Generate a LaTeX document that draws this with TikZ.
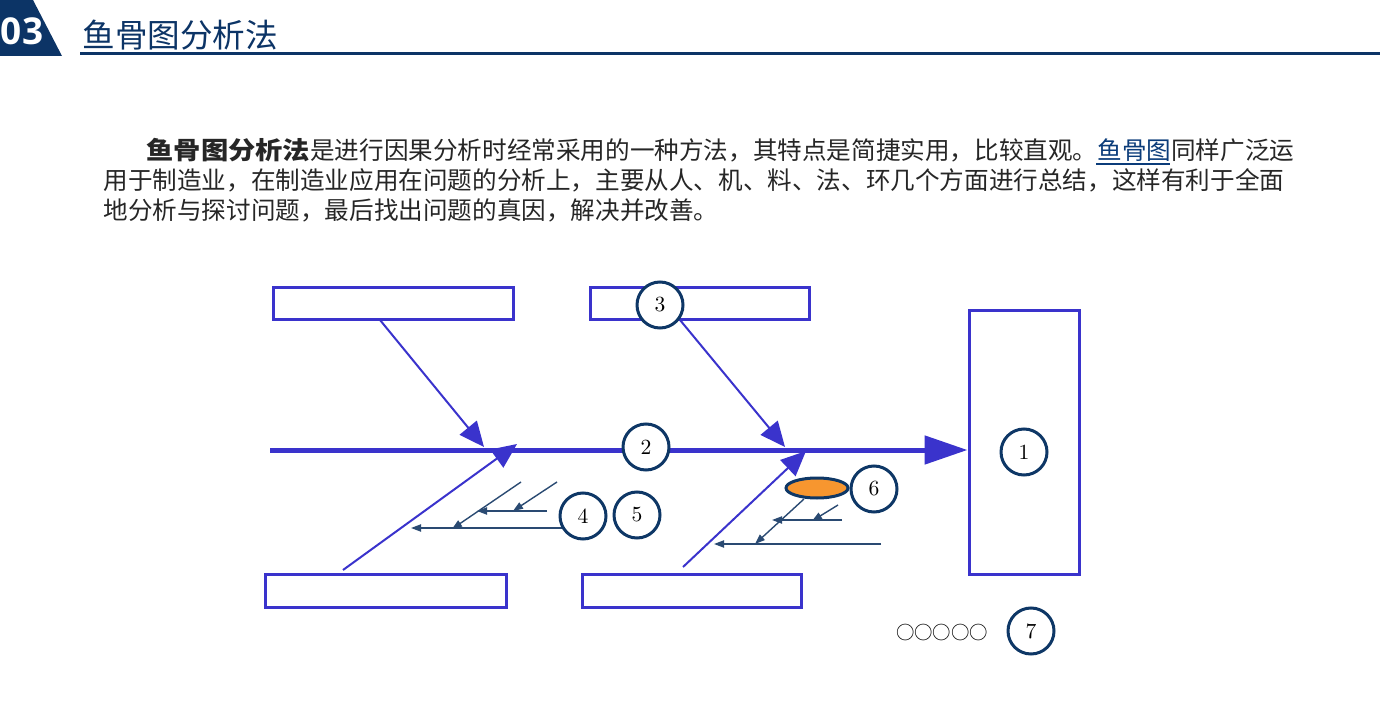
\documentclass[tikz,border=0pt]{standalone}
\usepackage{fontspec}
\usetikzlibrary{arrows.meta,shapes.geometric}
\newfontfamily\cjk{Noto Sans CJK SC}
\newfontfamily\numfont{Open Sans}
\definecolor{navy}{HTML}{0C3466}
\definecolor{bone}{HTML}{3A33CC}
\definecolor{cnavy}{HTML}{0E3766}
\definecolor{sarrow}{HTML}{2A4A72}
\definecolor{txt}{HTML}{262626}
\definecolor{linkc}{HTML}{0B3C7A}
\definecolor{fishorange}{HTML}{F7962F}
\tikzset{
  bbox/.style={draw=bone, line width=1.5pt, fill=white, inner sep=0pt},
  numc/.style={circle, draw=cnavy, line width=1.5pt, fill=white, minimum size=23pt, inner sep=0pt, font=\fontsize{10.8}{11}\selectfont},
  bonel/.style={draw=bone, line width=1pt, -{Triangle[length=12.5pt,width=11pt]}},
  smallarr/.style={draw=sarrow, line width=0.7pt, -{Triangle[length=5pt,width=3.6pt]}},
  para/.style={anchor=base west, inner sep=0pt, text=txt, font=\cjk\fontsize{12.3}{14}\selectfont},
}
\begin{document}
\begin{tikzpicture}[x=0.5pt,y=-0.5pt]
\useasboundingbox (0,0) rectangle (1380,716);
% header
\fill[navy] (0,0) -- (33,0) -- (62,56) -- (0,56) -- cycle;
\node[anchor=base, text=white, font=\numfont\bfseries\fontsize{18.5}{18}\selectfont, inner sep=0pt] (num) at (22,45) {03};
\node[anchor=base west, text=navy, font=\cjk\fontsize{16.3}{18}\selectfont, inner sep=0pt] (title) at (82,48) {鱼骨图分析法};
\coordinate (ulS) at (80,54);
\coordinate (ulE) at (1380,54);
\draw[navy, line width=1.5pt] (ulS) -- (ulE);
% paragraph
\node[para] (l1) at (146,160) {\scalebox{1.11}[1]{\bfseries 鱼骨图分析法}是进行因果分析时经常采用的一种方法，其特点是简捷实用，比较直观。\textcolor{linkc}{鱼骨图}同样广泛运};
\node[para] (l2) at (103,190) {用于制造业，在制造业应用在问题的分析上，主要从人、机、料、法、环几个方面进行总结，这样有利于全面};
\node[para] (l3) at (103,220) {地分析与探讨问题，最后找出问题的真因，解决并改善。};
\coordinate (lkS) at (1096,164);
\coordinate (lkE) at (1170,164);
\draw[linkc, line width=0.8pt] (lkS) -- (lkE);
% boxes
\node[bbox, minimum width=120pt, minimum height=16pt] (tb1) at (393,304) {};
\node[bbox, minimum width=109.5pt, minimum height=16pt] (tb2) at (699.5,304) {};
\node[bbox, minimum width=120.5pt, minimum height=16.5pt] (bb1) at (385.5,590.5) {};
\node[bbox, minimum width=109.5pt, minimum height=16.5pt] (bb2) at (691.5,590.5) {};
\node[bbox, minimum width=55pt, minimum height=131.5pt] (head) at (1024,442.5) {};
% spine
\coordinate (spS) at (270,450);
\draw[bone, line width=2.5pt, -{Triangle[length=21.5pt,width=14pt]}] (spS) -- (spS -| head.west);
% bones
\coordinate (t1a) at (380,320); \coordinate (t1b) at (484,447);
\coordinate (t2a) at (680,320); \coordinate (t2b) at (785,447);
\coordinate (b1a) at (343,570); \coordinate (b1b) at (517,444);
\coordinate (b2a) at (683,567); \coordinate (b2b) at (806,451);
\draw[bonel] (t1a) -- (t1b);
\draw[bonel] (t2a) -- (t2b);
\draw[bonel] (b1a) -- (b1b);
\draw[bonel] (b2a) -- (b2b);
% small arrows left
\coordinate (s1a) at (563,528); \coordinate (s1b) at (411,528);
\coordinate (s2a) at (547,511); \coordinate (s2b) at (477,511);
\coordinate (s3a) at (521,482); \coordinate (s3b) at (452,529);
\coordinate (s4a) at (557,482); \coordinate (s4b) at (513,511);
\draw[smallarr] (s1a) -- (s1b);
\draw[smallarr] (s2a) -- (s2b);
\draw[smallarr] (s3a) -- (s3b);
\draw[smallarr] (s4a) -- (s4b);
% small arrows right
\node[ellipse, draw=cnavy, line width=1.5pt, fill=fishorange, minimum width=31pt, minimum height=10pt, inner sep=0pt] (ell) at (817,488) {};
\coordinate (r1a) at (881,544); \coordinate (r1b) at (714,544);
\coordinate (r2a) at (842,520); \coordinate (r2b) at (772,520);
\coordinate (r3a) at (804,499); \coordinate (r3b) at (755,544);
\coordinate (r4a) at (838,505); \coordinate (r4b) at (812,521);
\draw[smallarr] (r1a) -- (r1b);
\draw[smallarr] (r2a) -- (r2b);
\draw[smallarr] (r3a) -- (r3b);
\draw[smallarr] (r4a) -- (r4b);
% numbered circles
\node[numc] (c1) at (1024,452) {1};
\node[numc] (c2) at (646,447) {2};
\node[numc] (c3) at (660,305) {3};
\node[numc] (c4) at (583,516) {4};
\node[numc] (c5) at (637,515) {5};
\node[numc] (c6) at (874,489) {6};
\node[numc] (c7) at (1031,631) {7};
\node[anchor=center, inner sep=0pt, text=black, font=\cjk\fontsize{9.2}{10}\selectfont] (dots) at (942,633) {○○○○○};
\end{tikzpicture}
\end{document}
